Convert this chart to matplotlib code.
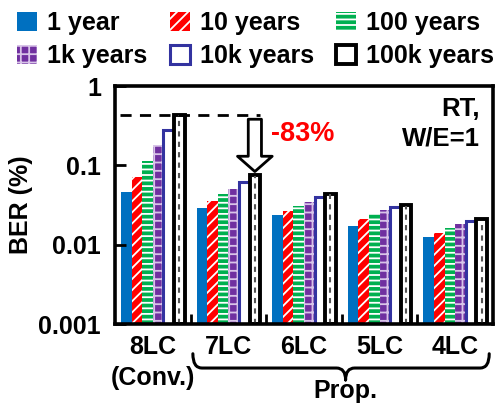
import matplotlib
matplotlib.use("Agg")
import matplotlib.pyplot as plt
from matplotlib.path import Path
from matplotlib.patches import PathPatch
import matplotlib.transforms as mtransforms
import numpy as np

plt.rcParams['font.family'] = ['Liberation Sans', 'DejaVu Sans']
plt.rcParams['font.weight'] = 'bold'
plt.rcParams['hatch.linewidth'] = 1.3

# BER (%) at RT, W/E=1 after each retention time
grupos = ['8LC\n(Conv.)', '7LC', '6LC', '5LC', '4LC']
ret_1y = [0.045, 0.0284, 0.0226, 0.0164, 0.0115]
ret_10y = [0.071, 0.0345, 0.0258, 0.020, 0.0129]
ret_100y = [0.112, 0.042, 0.0293, 0.024, 0.0154]
ret_1k = [0.18, 0.050, 0.034, 0.0266, 0.0171]
ret_10k = [0.28, 0.061, 0.039, 0.0287, 0.019]
ret_100k = [0.43, 0.074, 0.043, 0.031, 0.0203]
etiquetas = ['1 year', '10 years', '100 years', '1k years', '10k years', '100k years']
reduccion = '-83%'

series = [ret_1y, ret_10y, ret_100y, ret_1k, ret_10k, ret_100k]
estilos = [
    dict(facecolor='#0070C0', edgecolor='#0070C0', linewidth=0),
    dict(facecolor='#FF0000', edgecolor='white', hatch='///', linewidth=0),
    dict(facecolor='#00B050', edgecolor='white', hatch='---', linewidth=0),
    dict(facecolor='#7030A0', edgecolor='#D8C4E8', hatch='++', linewidth=0),
    dict(facecolor='white', edgecolor='#3333A0', linewidth=2.2),
    dict(facecolor='white', edgecolor='black', linewidth=2.8),
]

fig = plt.figure(figsize=(4.97, 4.05), dpi=100)
ax = fig.add_axes([115 / 497, 81 / 405, 378 / 497, 238 / 405])

x = np.arange(len(grupos))
w = 0.14
handles = []
for j, (vals, st) in enumerate(zip(series, estilos)):
    pos = x + (j - 2.5) * w
    b = ax.bar(pos, vals, width=w, bottom=1e-3, label=etiquetas[j], **st)
    handles.append(b)

# linea discontinua interna de las barras de 100k
pos100k = x + 2.5 * w
ax.vlines(pos100k, 1e-3, ret_100k, colors='#555555', linestyles=(0, (2.5, 2.5)), linewidth=1.5)

ax.set_yscale('log')
ax.set_ylim(1e-3, 1)
ax.set_xlim(-0.5, 4.5)
ax.set_yticks([1e-3, 1e-2, 1e-1, 1], ['0.001', '0.01', '0.1', '1'])
ax.minorticks_off()
ax.set_xticks(x, grupos, linespacing=1.35)
ax.set_xticks([0.5, 1.5, 2.5, 3.5], minor=True)
ax.tick_params(axis='y', direction='in', length=8, width=2, labelsize=18, pad=10)
ax.tick_params(axis='x', which='major', length=0, labelsize=18, pad=8)
ax.tick_params(axis='x', which='minor', direction='in', length=7, width=2)
for s in ax.spines.values():
    s.set_linewidth(2.6)
ax.set_ylabel('BER (%)', fontsize=18, fontweight='bold', labelpad=4)

# referencia de la convencional y flecha de reduccion
ax.hlines(ret_100k[0], -0.43, 1.42, colors='black', linestyles=(0, (4, 3)), linewidth=2)
ax.annotate('', xy=(pos100k[1], ret_100k[1]), xytext=(pos100k[1], ret_100k[0]),
            arrowprops=dict(arrowstyle='simple,head_length=11,head_width=25,tail_width=9.5',
                            mutation_scale=1, fc='white', ec='black', lw=2,
                            shrinkA=3, shrinkB=3))
ax.text(1.56, 0.245, reduccion, color='#FF0000', fontsize=19.5, ha='left', va='center')
ax.text(0.965, 0.955, 'RT,\nW/E=1', transform=ax.transAxes, ha='right', va='top',
        fontsize=18.5, linespacing=1.3)

# llave bajo las propuestas
tr = mtransforms.blended_transform_factory(ax.transData, ax.transAxes)
xl, xr, xc = 0.53, 4.45, 2.55
y0, y1, y2 = -0.125, -0.185, -0.235
r = 0.12
verts = [(xl, y0), (xl, y1), (xl + r, y1), (xc - r, y1), (xc, y1), (xc, y2),
         (xc, y2), (xc, y1), (xc + r, y1), (xr - r, y1), (xr, y1), (xr, y0)]
codes = [Path.MOVETO, Path.CURVE3, Path.CURVE3, Path.LINETO, Path.CURVE3, Path.CURVE3,
         Path.MOVETO, Path.CURVE3, Path.CURVE3, Path.LINETO, Path.CURVE3, Path.CURVE3]
ax.add_patch(PathPatch(Path(verts, codes), transform=tr, fill=False, lw=2.2,
                       clip_on=False, capstyle='round', joinstyle='round'))
ax.text(xc, -0.313, 'Prop.', transform=tr, ha='center', va='baseline', fontsize=18)

# leyenda en filas: reordenar para que ncol=3 se lea por filas
orden = [0, 3, 1, 4, 2, 5]
fig.legend(handles=[handles[i] for i in orden], loc='upper left',
           bbox_to_anchor=(17 / 497, 1 - 11 / 405),
           ncol=3, frameon=False, fontsize=18, handlelength=0.8, handleheight=0.8,
           handletextpad=0.4, columnspacing=0.9, labelspacing=0.35, borderpad=0,
           borderaxespad=0)

fig.savefig('out.png', dpi=100)
